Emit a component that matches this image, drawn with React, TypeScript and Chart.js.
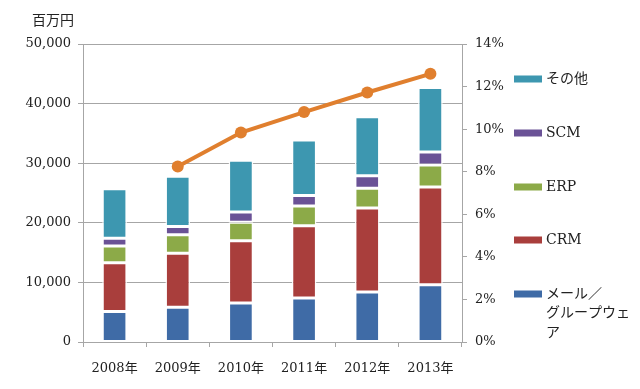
import React, { useEffect, useRef } from "react";
import { Chart, registerables } from "chart.js";

Chart.register(...registerables);

const categories = ["2008年", "2009年", "2010年", "2011年", "2012年", "2013年"];
const mailGroupware = [5100, 5850, 6550, 7400, 8400, 9600];
const crm = [8200, 9050, 10450, 12100, 14100, 16400];
const erp = [2800, 3100, 3100, 3300, 3300, 3700];
const scm = [1300, 1400, 1700, 1800, 2100, 2200];
const others = [8300, 8400, 8700, 9300, 9900, 10800];
const shareRate = [null, 0.0825, 0.0984, 0.108, 0.1172, 0.126];

const leftTicks = [0, 10000, 20000, 30000, 40000, 50000];
const seriesNames = ["メール／グループウェア", "CRM", "ERP", "SCM", "その他"];
const legendLines: string[][] = [["メール／", "グループウェ", "ア"], ["CRM"], ["ERP"], ["SCM"], ["その他"]];
const unitLabel = "百万円";

const colors = ["#3F6BA6", "#A93E3C", "#8CAA48", "#6A5296", "#3D97B0"];
const lineColor = "#E07F2E";
const gridColor = "#A6A6A6";
const FONT_SERIF = "'DejaVu Serif', 'Noto Sans CJK JP', serif";

const overlayPlugin = {
  id: "overlay",
  afterDraw(chart: any) {
    const ctx = chart.ctx;
    ctx.save();
    ctx.fillStyle = "#222";
    ctx.font = `14px ${FONT_SERIF}`;
    ctx.textBaseline = "middle";
    ctx.textAlign = "left";
    ctx.fillText(unitLabel, 32, 21);
    const centers = [294, 240, 187, 133, 79];
    ctx.font = `14px ${FONT_SERIF}`;
    for (let i = 0; i < 5; i++) {
      const ds = chart.data.datasets[i];
      const cy = centers[i];
      ctx.fillStyle = ds.backgroundColor;
      ctx.fillRect(514, cy - 3.5, 28, 7);
      ctx.fillStyle = "#222";
      legendLines[i].forEach((ln, k) => {
        ctx.fillText(ln, 546, cy + k * 19.5);
      });
    }
    ctx.restore();
  },
};

export default function App() {
  const ref = useRef<HTMLCanvasElement | null>(null);
  useEffect(() => {
    document.body.style.margin = "0";
    const barSets = [mailGroupware, crm, erp, scm, others].map((d, i) => ({
      type: "bar" as const,
      label: seriesNames[i],
      data: d,
      backgroundColor: colors[i],
      borderColor: "rgba(255,255,255,0.92)",
      borderWidth: 1.5,
      borderSkipped: false,
      yAxisID: "y",
      stack: "s",
      categoryPercentage: 1,
      barPercentage: 0.39,
      order: 2,
    }));
    const chart = new Chart(ref.current!, {
      type: "bar",
      data: {
        labels: categories,
        datasets: [
          ...barSets,
          {
            type: "line" as const,
            label: "rate",
            data: shareRate as any,
            borderColor: lineColor,
            backgroundColor: lineColor,
            borderWidth: 4,
            pointRadius: 6,
            pointBorderWidth: 0,
            pointBackgroundColor: lineColor,
            yAxisID: "y1",
            spanGaps: false,
            order: 1,
          } as any,
        ],
      },
      options: {
        animation: false,
        responsive: false,
        maintainAspectRatio: false,
        layout: { padding: { top: 44, left: 0, right: 128, bottom: 0 } },
        plugins: { legend: { display: false }, tooltip: { enabled: false } },
        scales: {
          x: {
            stacked: true,
            grid: { offset: true, drawOnChartArea: false, tickLength: 5, color: gridColor },
            border: { color: gridColor },
            ticks: { color: "#222", font: { family: FONT_SERIF, size: 13 }, padding: 14 },
            afterFit(scale: any) {
              scale.height = 47;
            },
          },
          y: {
            stacked: true,
            position: "left",
            min: 0,
            max: 50000,
            afterBuildTicks(scale: any) {
              scale.ticks = leftTicks.map((v) => ({ value: v }));
            },
            grid: { color: gridColor, tickLength: 5 },
            border: { color: gridColor },
            ticks: {
              color: "#222",
              font: { family: FONT_SERIF, size: 13 },
              padding: 7,
              callback: (v: any) => Number(v).toLocaleString("en-US"),
            },
            afterFit(scale: any) {
              scale.width = 83;
            },
          },
          y1: {
            position: "right",
            min: 0,
            max: 0.14,
            ticks: {
              stepSize: 0.02,
              color: "#222",
              font: { family: FONT_SERIF, size: 13 },
              padding: 8,
              callback: (v: any) => `${Math.round(Number(v) * 100)}%`,
            },
            grid: { drawOnChartArea: false, tickLength: 5, color: gridColor },
            border: { color: gridColor },
            afterFit(scale: any) {
              scale.width = 50;
            },
          },
        },
      } as any,
      plugins: [overlayPlugin],
    });
    return () => chart.destroy();
  }, []);
  return (
    <div style={{ position: "fixed", left: 0, top: 0, width: 640, height: 389, background: "#fff" }}>
      <canvas ref={ref} width={640} height={389} style={{ width: 640, height: 389 }} />
    </div>
  );
}
